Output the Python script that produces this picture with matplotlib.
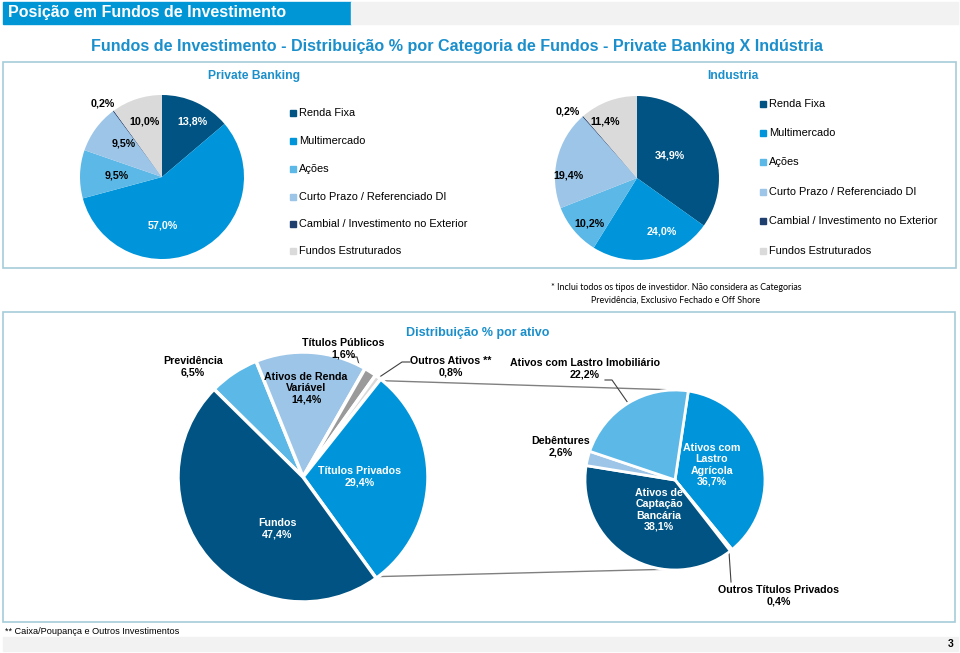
import numpy as np
import matplotlib
matplotlib.use("Agg")
import matplotlib.pyplot as plt
from matplotlib.patches import Rectangle

W, H = 960, 653

# =========================
# DATA
# =========================
CATEGORIAS = ["Renda Fixa", "Multimercado", "Ações", "Curto Prazo / Referenciado DI",
              "Cambial / Investimento no Exterior", "Fundos Estruturados"]
PRIVATE_BANKING = [13.8, 57.0, 9.5, 9.5, 0.2, 10.0]
INDUSTRIA = [34.9, 24.0, 10.2, 19.4, 0.2, 11.4]

ATIVOS = ["Previdência", "Ativos de Renda\nVariável", "Títulos Públicos",
          "Outros Ativos **", "Títulos Privados", "Fundos"]
ATIVOS_PCT = [6.5, 14.4, 1.6, 0.8, 29.4, 47.4]

PRIVADOS = ["Ativos com\nLastro\nAgrícola", "Outros Títulos Privados",
            "Ativos de\nCaptação\nBancária", "Debêntures", "Ativos com Lastro Imobiliário"]
PRIVADOS_PCT = [36.7, 0.4, 38.1, 2.6, 22.2]

# =========================
# STYLE
# =========================
DARK = "#005382"
MID = "#0095DA"
LIGHT = "#5CB8E6"
PALE = "#9DC5E7"
NAVY = "#1F3F6F"
GREY = "#DADADA"
HEAD = "#1A8FCB"
BORDER = "#A6CCD9"
CAT_COLORS = [DARK, MID, LIGHT, PALE, NAVY, GREY]
ATIVO_COLORS = [LIGHT, PALE, "#9A9A9A", "#D9D9D9", MID, DARK]
PRIV_COLORS = [MID, "#C8C8C8", DARK, PALE, LIGHT]

plt.rcParams["font.family"] = ["Liberation Sans", "DejaVu Sans"]


def pct(v):
    return f"{v:.1f}%".replace(".", ",")


def fx(x):
    return x / W


def fy(y):
    return 1 - y / H


def txt(x, y, s, size=7.7, color="black", weight="bold", ha="center", **kw):
    fig.text(fx(x), fy(y), s, fontsize=size, color=color, weight=weight,
             ha=ha, va="center", linespacing=1.15, **kw)


def pie_axes(cx, cy, r):
    ax = fig.add_axes([fx(cx - r), fy(cy + r), 2 * r / W, 2 * r / H])
    ax.axis("off")
    return ax


def fit(ax):
    # pie() resets the limits to +-1.25, pin them back to the unit circle
    ax.set_xlim(-1, 1)
    ax.set_ylim(-1, 1)


def edge_point(cx, cy, r, ang):
    a = np.deg2rad(ang)
    return cx + r * np.cos(a), cy - r * np.sin(a)


fig = plt.figure(figsize=(W / 100, H / 100), dpi=100)

# background layer in pixel coordinates
bg = fig.add_axes([0, 0, 1, 1])
bg.set_xlim(0, W)
bg.set_ylim(H, 0)
bg.axis("off")

bg.add_patch(Rectangle((3, 2), 348, 22, color="#0096D6"))
bg.add_patch(Rectangle((351, 2), 607, 22, color="#F2F2F2"))
bg.add_patch(Rectangle((3, 62), 953, 206, fill=False, ec=BORDER, lw=1.2))
bg.add_patch(Rectangle((3, 312), 952, 310, fill=False, ec=BORDER, lw=1.2))
bg.add_patch(Rectangle((3, 637), 955, 14, color="#F2F2F2"))

txt(8, 13, "Posição em Fundos de Investimento", size=11.5, color="white", ha="left")
txt(457, 46, "Fundos de Investimento - Distribuição % por Categoria de Fundos - Private Banking X Indústria",
    size=11.6, color=HEAD)
txt(254, 76, "Private Banking", size=8.7, color=HEAD)
txt(733, 76, "Industria", size=8.7, color=HEAD)

# =========================
# TOP PIES
# =========================
top = [
    (162, 177, PRIVATE_BANKING,
     [(192, 121, "white"), (163, 225, "white"), (117, 176, "black"),
      (124, 143, "black"), (103, 103, "black"), (145, 121, "black")],
     293, [113, 141, 169, 197, 224, 251]),
    (637, 178, INDUSTRIA,
     [(670, 156, "white"), (662, 231, "white"), (589, 224, "black"),
      (568, 176, "black"), (568, 111, "black"), (605, 122, "black")],
     763, [104, 133, 162, 192, 221, 251]),
]
for cx, cy, vals, lab_pos, lx, ly in top:
    ax = pie_axes(cx, cy, 82)
    ax.pie(vals, colors=CAT_COLORS, startangle=90, counterclock=False, radius=1,
           wedgeprops=dict(linewidth=0))
    fit(ax)
    for v, (x, y, c) in zip(vals, lab_pos):
        txt(x, y, pct(v), color=c)
    for name, col, y in zip(CATEGORIAS, CAT_COLORS, ly):
        bg.add_patch(Rectangle((lx - 3, y - 3), 6, 6, color=col))
        txt(lx + 6, y, name, size=7.9, weight="normal", ha="left")

txt(676, 287, "* Inclui todos os tipos de investidor. Não considera as Categorias",
    size=6.4, weight="normal", ha="center", family=["Lato", "DejaVu Sans"])
txt(676, 300, "Previdência, Exclusivo Fechado e Off Shore",
    size=6.4, weight="normal", ha="center", family=["Lato", "DejaVu Sans"])

# =========================
# BOTTOM PIES
# =========================
txt(478, 333, "Distribuição % por ativo", size=9.0, color=HEAD)

c3x, c3y, r3 = 303, 477, 125
ax3 = pie_axes(c3x, c3y, r3)
w3, _ = ax3.pie(ATIVOS_PCT, colors=ATIVO_COLORS, startangle=135.4, counterclock=False,
                radius=1, wedgeprops=dict(linewidth=2.5, edgecolor="white"))
fit(ax3)

c4x, c4y, r4 = 675, 480, 90
ax4 = pie_axes(c4x, c4y, r4)
ax4.pie(PRIVADOS_PCT, colors=PRIV_COLORS, startangle=81.5, counterclock=False,
        radius=1, wedgeprops=dict(linewidth=2, edgecolor="white"))
fit(ax4)

# connector lines from Títulos Privados slice to the breakdown pie
tp = w3[ATIVOS.index("Títulos Privados")]
a_top = edge_point(c3x, c3y, r3 - 2, tp.theta2)
a_bot = edge_point(c3x, c3y, r3 - 2, tp.theta1)
b_top = edge_point(c4x, c4y, r4, 89)
b_bot = edge_point(c4x, c4y, r4, -97)
for a, b in [(a_top, b_top), (a_bot, b_bot)]:
    bg.plot([a[0], b[0]], [a[1], b[1]], color="#808080", lw=1)

# leader lines
leaders = [
    [(352, 357), (357, 357), (362, 376)],
    [(410, 362), (402, 362), (372, 382)],
    [(605, 380), (612, 380), (628, 403)],
    [(729, 552), (731, 582)],
]
for pts in leaders:
    xs, ys = zip(*pts)
    bg.plot(xs, ys, color="#404040", lw=0.8)

ativo_lab = [(193, 367, "black"), (306, 388, "black"), (343, 349, "black"),
             (451, 367, "black"), (360, 477, "white"), (277, 529, "white")]
for name, v, (x, y, c) in zip(ATIVOS, ATIVOS_PCT, ativo_lab):
    txt(x, y, f"{name}\n{pct(v)}", color=c)

priv_lab = [(712, 465, "white"), (779, 596, "black"), (659, 510, "white"),
            (561, 447, "black"), (585, 369, "black")]
for name, v, (x, y, c) in zip(PRIVADOS, PRIVADOS_PCT, priv_lab):
    txt(x, y, f"{name}\n{pct(v)}", color=c)

txt(5, 632, "** Caixa/Poupança e Outros Investimentos", size=6.6, weight="normal", ha="left",
    family=["Liberation Sans Narrow", "Liberation Sans"])
txt(951, 644, "3", size=7.5)

fig.savefig("out.png", dpi=100)
